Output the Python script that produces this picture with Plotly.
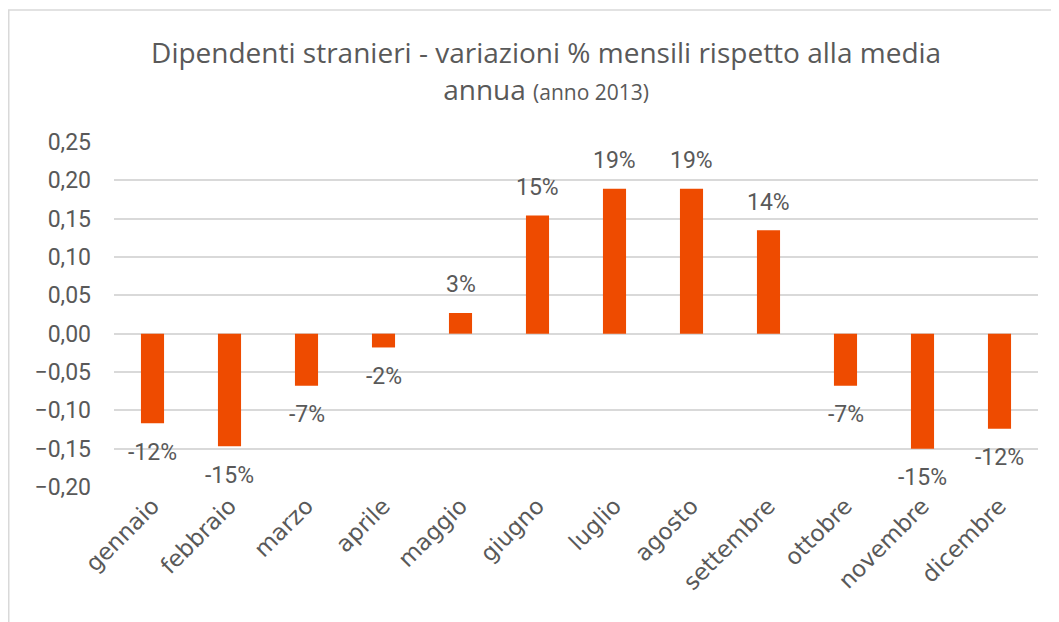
import plotly.graph_objects as go

months = ["gennaio", "febbraio", "marzo", "aprile", "maggio", "giugno",
          "luglio", "agosto", "settembre", "ottobre", "novembre", "dicembre"]
values = [-0.117, -0.147, -0.068, -0.018, 0.027, 0.154,
          0.189, 0.189, 0.135, -0.068, -0.150, -0.124]
labels = ["-12%", "-15%", "-7%", "-2%", "3%", "15%",
          "19%", "19%", "14%", "-7%", "-15%", "-12%"]
y_ticks = [-0.20, -0.15, -0.10, -0.05, 0.00, 0.05, 0.10, 0.15, 0.20, 0.25]

W, H = 1051, 614
ml, mr, mt, mb = 106, 21, 134, 135
pw = W - ml - mr
ph = H - mt - mb

fig = go.Figure(go.Bar(
    x=months, y=values,
    marker=dict(color="#EE4B00", line=dict(width=0)),
    cliponaxis=False,
))

for m, v, t in zip(months, values, labels):
    fig.add_annotation(
        x=m, y=v, text=t, showarrow=False,
        yshift=28 if v >= 0 else -29,
        font=dict(family="Roboto, Open Sans, sans-serif", size=23, color="#595959"),
    )

fig.add_shape(type="rect", xref="paper", yref="paper",
              x0=(0.75 - ml) / pw, x1=(W + 10 - ml) / pw,
              y0=(H - mb - H - 10) / ph, y1=(H - mb - 2) / ph,
              line=dict(color="#D9D9D9", width=1.5), layer="below")

fig.update_layout(
    width=W, height=H,
    margin=dict(l=ml, r=mr, t=mt, b=mb),
    paper_bgcolor="white", plot_bgcolor="white",
    separators=", ",
    bargap=0.7,
    showlegend=False,
    title=dict(
        text="Dipendenti stranieri - variazioni % mensili rispetto alla media<br>annua <span style='font-size:21px'>(anno 2013)</span>",
        x=0.512, xanchor="center", xref="container",
        y=0.91, yanchor="top", yref="container",
        font=dict(family="Open Sans, sans-serif", size=28, color="#595959"),
    ),
    xaxis=dict(
        tickangle=-45,
        tickfont=dict(family="DejaVu Sans, sans-serif", size=23, color="#595959"),
        showgrid=False, showline=False, ticks="",
    ),
    yaxis=dict(
        range=[-0.20, 0.25],
        tickvals=y_ticks, tickformat=".2f",
        tickfont=dict(family="Roboto, Open Sans, sans-serif", size=23, color="#595959"),
        gridcolor="#D9D9D9", gridwidth=1.5,
        zeroline=True, zerolinecolor="#D9D9D9", zerolinewidth=1.5,
        showline=False, ticks="", ticklabelstandoff=22,
    ),
)

fig.write_html("out.html")
